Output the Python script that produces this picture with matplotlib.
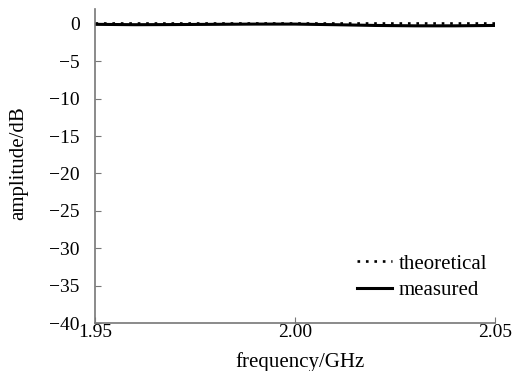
import numpy as np
import matplotlib.pyplot as plt

plt.rcParams['font.family'] = ['Liberation Serif', 'DejaVu Serif']

# frequency (GHz) and amplitude (dB)
freq = [1.950, 1.960, 1.970, 1.980, 1.990, 2.000, 2.010, 2.020, 2.030, 2.040, 2.050]
theoretical = [0.15, 0.15, 0.15, 0.15, 0.15, 0.15, 0.15, 0.15, 0.15, 0.15, 0.15]
measured = [-0.05, -0.1, -0.08, -0.05, -0.02, -0.02, -0.1, -0.2, -0.25, -0.25, -0.2]

W, H = 518, 371
fig = plt.figure(figsize=(W / 100, H / 100), dpi=100)
ax = fig.add_axes([95 / W, 1 - 323 / H, 400 / W, 314 / H])

ax.plot(freq, theoretical, color='black', linestyle=(0, (1, 2.2)), linewidth=1.9, label='theoretical')
ax.plot(freq, measured, color='black', linestyle='-', linewidth=2.2, label='measured')

ax.set_xlim(1.95, 2.05)
ax.set_ylim(-40, 2)
ax.set_xticks([1.95, 2.00, 2.05])
ax.set_xticklabels(['1.95', '2.00', '2.05'])
ax.set_yticks([0, -5, -10, -15, -20, -25, -30, -35, -40])
ax.set_yticklabels(['0', '\u22125', '\u221210', '\u221215', '\u221220', '\u221225', '\u221230', '\u221235', '\u221240'])

for s in ['top', 'right']:
    ax.spines[s].set_visible(False)
for s in ['left', 'bottom']:
    ax.spines[s].set_color('#777777')
    ax.spines[s].set_linewidth(1.2)

ax.tick_params(direction='in', length=4, color='#777777', labelsize=14)
ax.tick_params(axis='y', pad=11)
ax.tick_params(axis='x', pad=1)

ax.set_xlabel('frequency/GHz', fontsize=15)
ax.xaxis.set_label_coords(205 / 400, -29 / 314)
ax.set_ylabel('amplitude/dB', fontsize=15)
ax.yaxis.set_label_coords(-67 / 400, 160 / 314)

ax.legend(loc='upper left', frameon=False, fontsize=15, handlelength=1.7,
          handletextpad=0.3, labelspacing=0.35, borderpad=0, borderaxespad=0,
          bbox_to_anchor=(357 / W, 1 - 254 / H), bbox_transform=fig.transFigure)

fig.savefig('out.png', dpi=100)
